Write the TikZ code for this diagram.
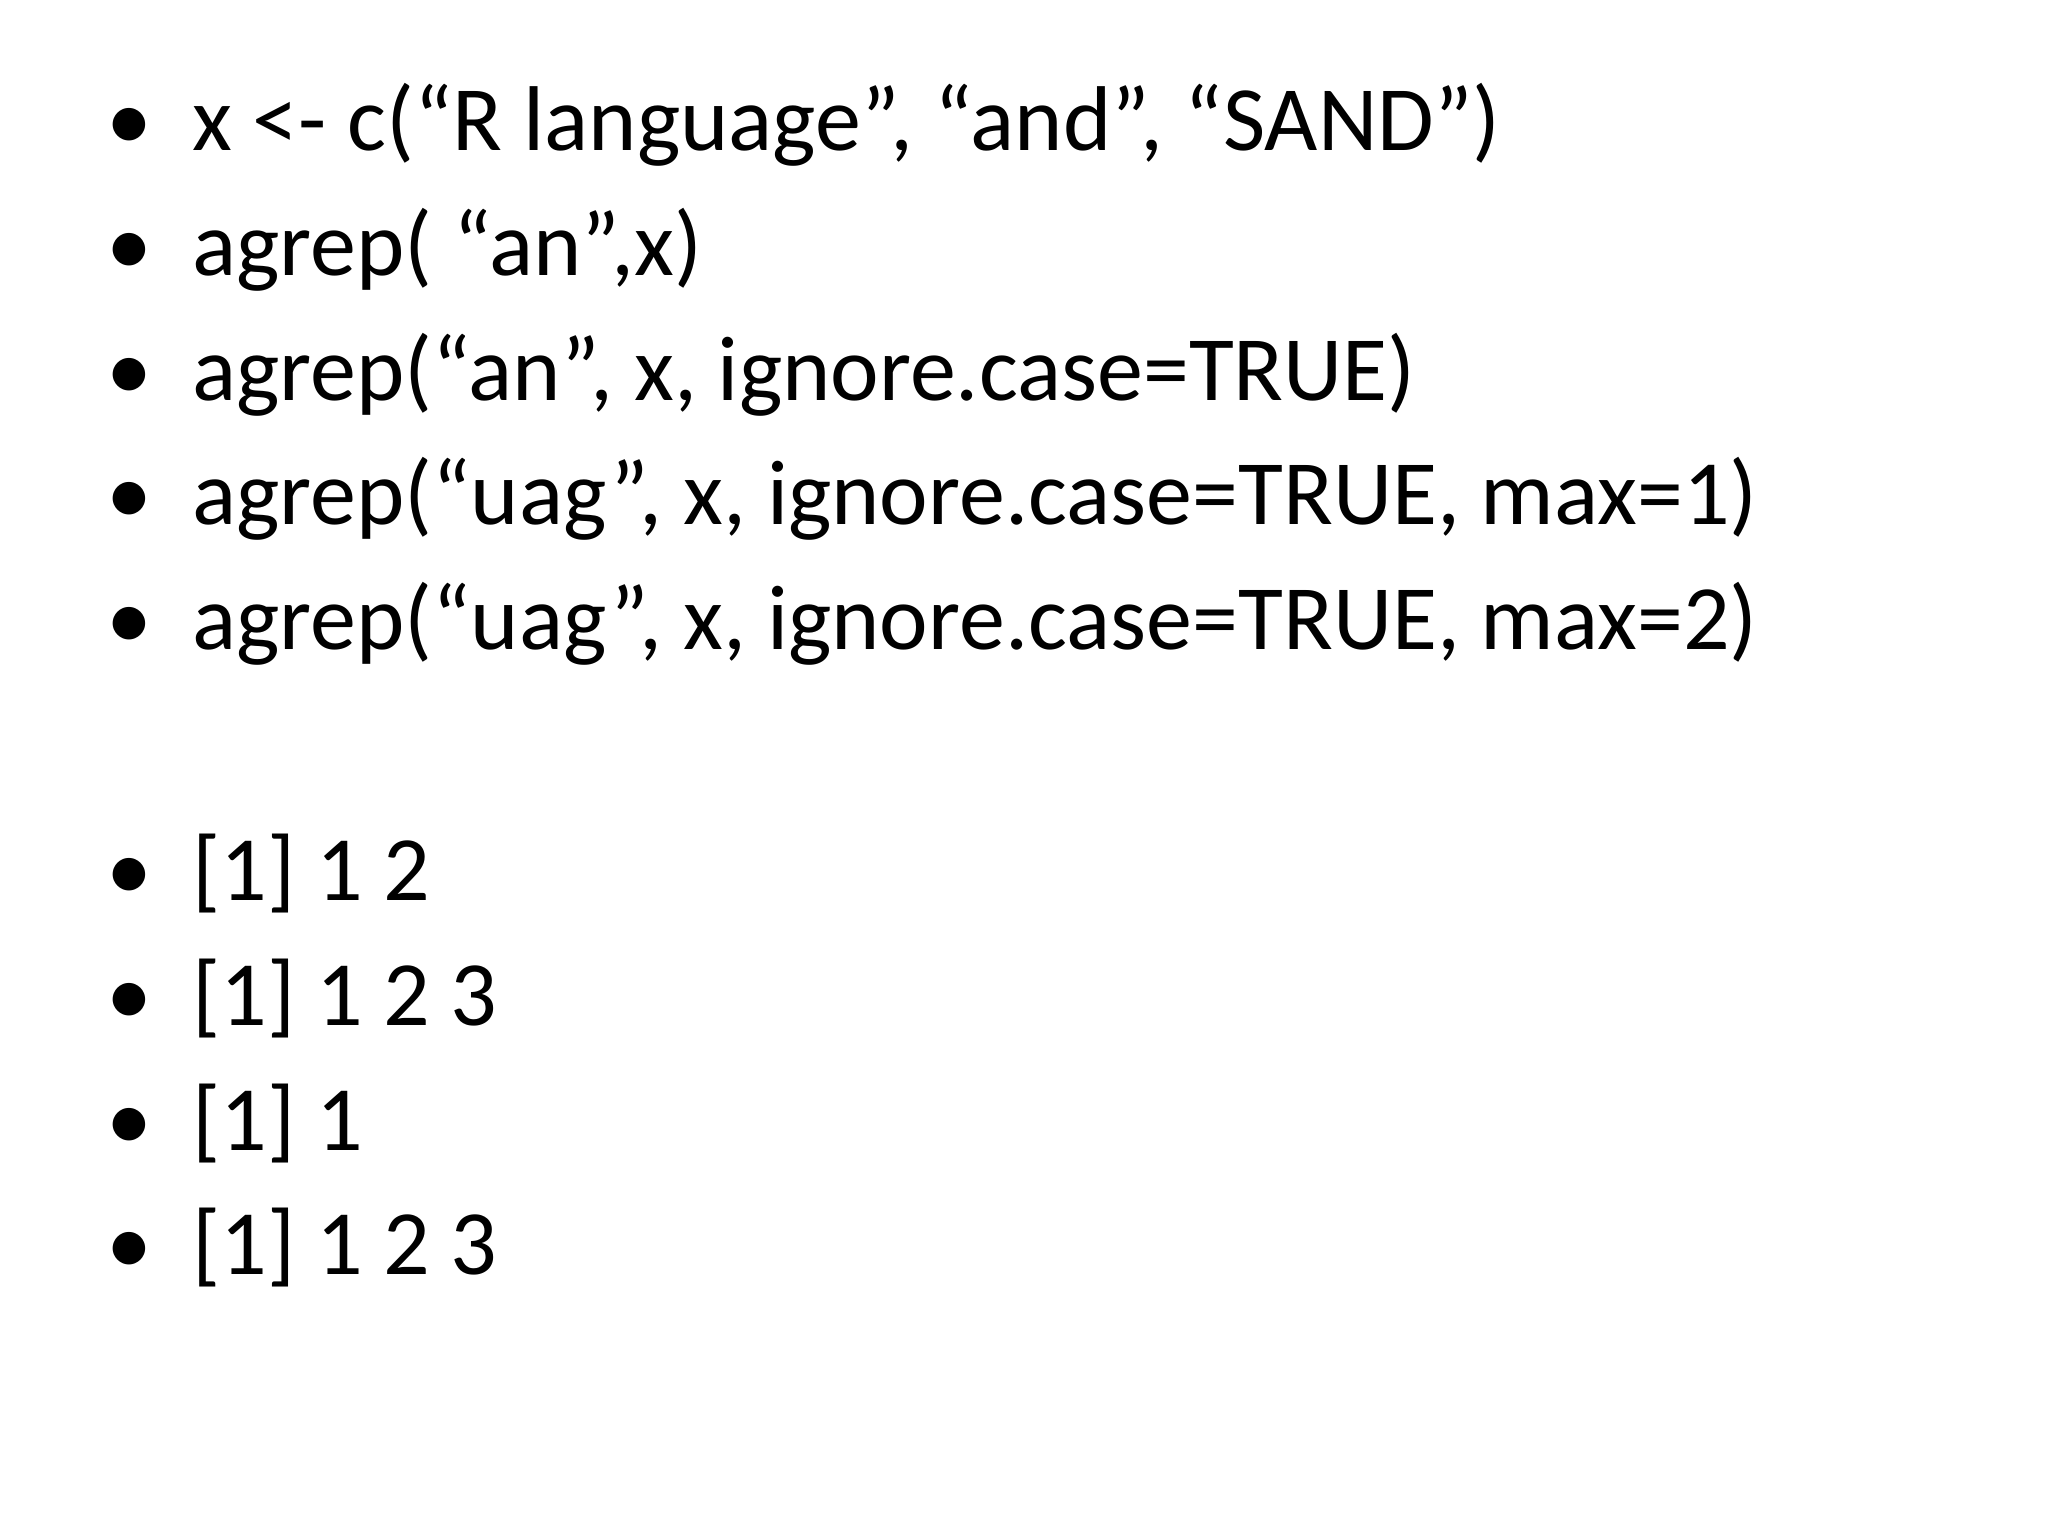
\documentclass[tikz,border=0pt]{standalone}
\usepackage{fontspec}
\setmainfont{Carlito}
\begin{document}
\begin{tikzpicture}[x=1pt,y=-1pt,
  line/.style={anchor=base west,inner sep=0pt,font=\fontsize{92}{110}\selectfont},
  bul/.style={anchor=base,inner sep=0pt,font=\fontsize{92}{110}\selectfont}]
\useasboundingbox[fill=white] (0,0) rectangle (2048,1536);
\foreach \t/\y [count=\i] in {%
  {x <- c(“R language”, “and”, “SAND”)}/150,
  {agrep( “an”,x)}/275,
  {agrep(“an”, x, ignore.case=TRUE)}/400,
  {agrep(“uag”, x, ignore.case=TRUE, max=1)}/524,
  {agrep(“uag”, x, ignore.case=TRUE, max=2)}/649,
  {[1] 1 2}/900,
  {[1] 1 2 3}/1025,
  {[1] 1}/1150,
  {[1] 1 2 3}/1274}{
  \node[bul] (b\i) at (129,\y) {•};
  \node[line] (t\i) at (192,\y) {\t};
}
\end{tikzpicture}
\end{document}
